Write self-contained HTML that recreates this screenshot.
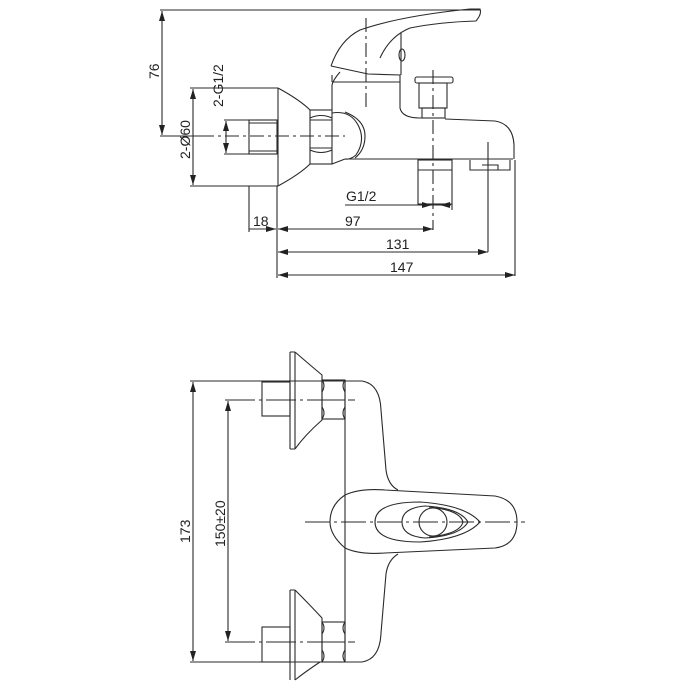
<!DOCTYPE html>
<html><head><style>
html,body{margin:0;padding:0;background:#fff;}
svg{display:block;}
text{font-family:"Liberation Sans",Arial,sans-serif;font-size:14px;fill:#222;}
</style></head><body>
<svg width="700" height="700" viewBox="0 0 700 700" xmlns="http://www.w3.org/2000/svg">
<defs>
<marker id="a" viewBox="0 0 10 6" refX="10" refY="3" markerWidth="10" markerHeight="6" orient="auto-start-reverse" markerUnits="userSpaceOnUse"><path d="M0,0 L10,3 L0,6 z" fill="#222"/></marker>
</defs>
<g fill="none" stroke="#2a2a2a" stroke-width="1.1">
<line x1="160" y1="10" x2="480" y2="10"/>
<line x1="162" y1="11" x2="162" y2="135" marker-start="url(#a)" marker-end="url(#a)"/>
<line x1="160" y1="136" x2="200" y2="136"/>
<line x1="190" y1="88" x2="278" y2="88"/>
<line x1="190" y1="186" x2="278" y2="186"/>
<line x1="193" y1="89" x2="193" y2="185" marker-start="url(#a)" marker-end="url(#a)"/>
<line x1="224" y1="120" x2="250" y2="120"/>
<line x1="224" y1="154" x2="250" y2="154"/>
<line x1="226" y1="121" x2="226" y2="153" marker-start="url(#a)" marker-end="url(#a)"/>
<line x1="200" y1="136" x2="345" y2="136" stroke-dasharray="14,4,3,4"/>
<rect x="249" y="120" width="28" height="34"/>
<line x1="249" y1="123" x2="277" y2="123"/>
<line x1="249" y1="151" x2="277" y2="151"/>
<line x1="278" y1="88" x2="278" y2="186"/>
<path d="M278,88 Q300,100 310,110 M278,186 Q300,174 310,164"/>
<rect x="310" y="110" width="22" height="54"/>
<path d="M310,118 Q321,113 332,118 M310,150 Q321,155 332,150 M310,120 L332,120 M310,148 L332,148"/>
<path d="M332,110 L332,85 Q333,80 340,72 M332,164 L345,159"/>
<path d="M332,113 Q350,110 358,125 Q366,140 356,155 Q350,160 345,159"/>
<path d="M345,112 Q365,120 365,136 Q365,150 355,158"/>
<line x1="345" y1="159" x2="513" y2="159"/>
<path d="M332,82 L400,82 L400,108 Q402,118 420,118 L423,118 M445,119 L495,121 Q513,124 514,145 L514,159"/>
<path d="M331,66 Q340,40 360,30 Q400,16 470,9 L480,9 Q482,14 476,21 Q440,22 410,28 Q390,36 380,58"/>
<path d="M331,66 L368,74 L400,75 L400,82 M332,75 L332,82"/>
<path d="M401,33 L401,75"/>
<ellipse cx="402" cy="55" rx="3" ry="6"/>
<line x1="366" y1="18" x2="366" y2="110" stroke-dasharray="14,4,3,4"/>
<rect x="415" y="77" width="38" height="6" rx="2"/>
<rect x="419" y="83" width="28" height="25"/>
<rect x="422" y="108" width="23" height="10"/>
<line x1="433" y1="70" x2="433" y2="230" stroke-dasharray="14,4,3,4"/>
<rect x="418" y="160" width="34" height="44"/>
<line x1="418" y1="170" x2="452" y2="170"/>
<path d="M470,160 L470,170 L510,170 L510,160 M482,165 L498,165 L498,170"/>
<line x1="488" y1="142" x2="488" y2="252"/>
<line x1="515" y1="160" x2="515" y2="276"/>
<line x1="249" y1="186" x2="249" y2="232"/>
<line x1="277" y1="186" x2="277" y2="278"/>
<line x1="452" y1="204" x2="452" y2="210"/>
<line x1="345" y1="205" x2="451" y2="205"/>
<line x1="420" y1="205" x2="432" y2="205" marker-end="url(#a)"/>
<line x1="440" y1="205" x2="451" y2="205" marker-start="url(#a)"/>
<line x1="249" y1="229" x2="276" y2="229" marker-end="url(#a)"/>
<line x1="278" y1="229" x2="433" y2="229" marker-start="url(#a)" marker-end="url(#a)"/>
<line x1="278" y1="252" x2="488" y2="252" marker-start="url(#a)" marker-end="url(#a)"/>
<line x1="278" y1="275" x2="515" y2="275" marker-start="url(#a)" marker-end="url(#a)"/>

<line x1="190" y1="381" x2="360" y2="381"/>
<line x1="190" y1="662" x2="360" y2="662"/>
<line x1="193" y1="382" x2="193" y2="661" marker-start="url(#a)" marker-end="url(#a)"/>
<line x1="225" y1="400" x2="355" y2="400" stroke-dasharray="30,4,3,4"/>
<line x1="225" y1="642" x2="355" y2="642" stroke-dasharray="30,4,3,4"/>
<line x1="228" y1="401" x2="228" y2="641" marker-start="url(#a)" marker-end="url(#a)"/>
<path d="M290,352 L290,449 M295,352 L295,449 M290,352 L295,352 M290,449 L295,449"/>
<path d="M295,352 Q310,365 322,375 L322,420 Q305,435 295,449"/>
<rect x="262" y="382" width="28" height="34"/>
<rect x="322" y="380" width="23" height="39"/>
<path d="M322,392 Q326,385 322,380 M345,392 Q341,385 345,380 M322,400 L345,400 M322,407 Q326,413 322,419 M345,407 Q341,413 345,419"/>
<path d="M290,590 L290,680 M295,590 L295,680 M290,590 L295,590"/>
<path d="M295,590 Q310,605 322,618 L322,662 M295,680 Q305,672 320,662"/>
<rect x="262" y="627" width="28" height="35"/>
<rect x="322" y="622" width="23" height="40"/>
<path d="M322,634 Q326,628 322,622 M345,634 Q341,628 345,622 M322,642 L345,642 M322,650 Q326,656 322,662 M345,650 Q341,656 345,662"/>
<line x1="345" y1="380" x2="345" y2="662"/>
<path d="M345,381 L362,381 Q380,384 381,410 L386,470 Q388,485 398,490"/>
<path d="M345,662 L362,662 Q380,659 381,633 L386,574 Q388,560 398,554"/>
<path d="M345,495 Q360,488 385,490 L495,496 Q517,500 517,522 Q517,545 495,548 L385,553 Q360,555 345,548 Q330,535 330,522 Q330,505 345,495 Z"/>
<path d="M375,522 Q375,502 420,502 Q465,505 480,522 Q465,539 420,542 Q375,542 375,522 Z"/>
<path d="M402,522 Q402,508 425,506 Q460,508 468,522 Q460,536 425,538 Q402,536 402,522 Z"/>
<path d="M429,507 Q460,510 463,522 Q460,534 429,537"/>
<circle cx="433" cy="522" r="14"/>
<line x1="305" y1="522" x2="525" y2="522" stroke-dasharray="25,4,3,4"/>
</g>
<g>
<text transform="translate(159,79) rotate(-90)">76</text>
<text transform="translate(190,159) rotate(-90)">2-Ø60</text>
<text transform="translate(223,107) rotate(-90)">2-G1/2</text>
<text x="346" y="201">G1/2</text>
<text x="253" y="226">18</text>
<text x="345" y="226">97</text>
<text x="386" y="249">131</text>
<text x="390" y="272">147</text>
<text transform="translate(190,543) rotate(-90)">173</text>
<text transform="translate(225,547) rotate(-90)">150±20</text>
</g>
</svg>
</body></html>
